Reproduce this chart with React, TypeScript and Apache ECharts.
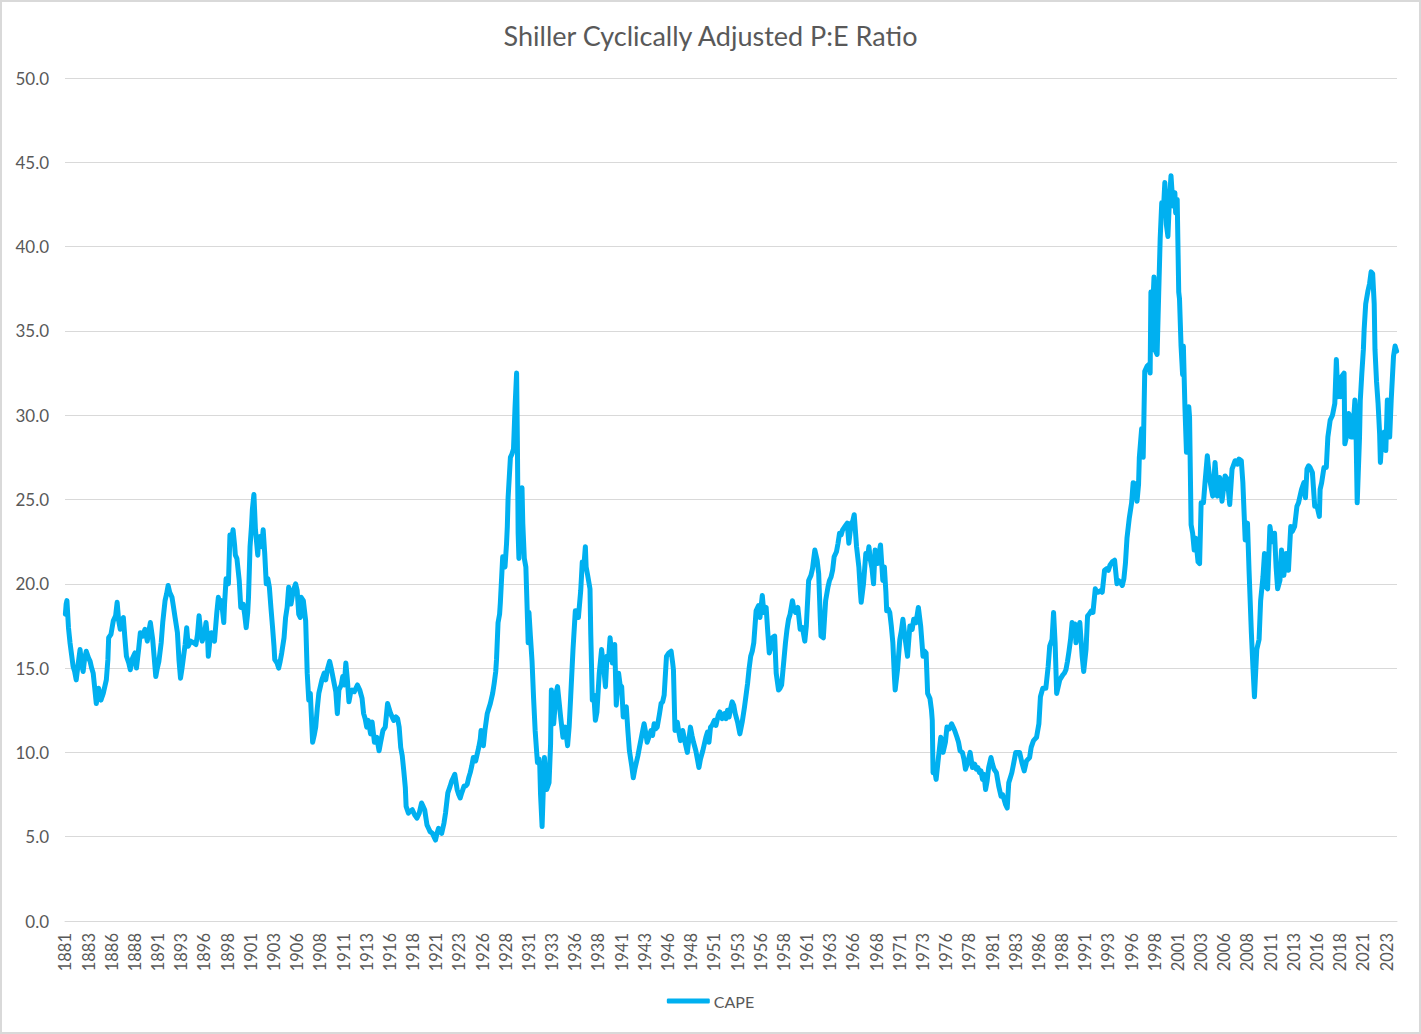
import React, { useEffect, useRef } from "react";
import * as echarts from "echarts";

const START_YEAR = 1881;
const MONTH_COUNT = 1724;
const LABEL_EVERY = 30;
const SERIES_NAME = "CAPE";
const TITLE = "Shiller Cyclically Adjusted P:E Ratio";

// [month index since Jan 1881, CAPE]
const cape1881to1915: [number, number][] = [
  [0,18.2],[1,18.8],[2,19.0],[4,17.4],[6,16.5],[8,15.8],[10,15.1],[12,14.8],[14,14.3],[17,15.4],[19,16.1],[21,15.2],[23,14.8],[25,15.6],[27,16.0],[30,15.6],[32,15.4],[34,15.0],[36,14.7],[38,13.8],[40,12.9],[43,13.8],[46,13.1],[49,13.5],[53,14.3],[55,15.5],[56,16.8],[59,17.0],[62,17.8],[65,18.1],[67,18.9],[69,17.8],[71,17.3],[73,17.8],[75,18.0],[77,16.8],[79,15.7],[82,15.3],[84,14.9],[87,15.6],[90,15.9],[92,15.0],[95,16.2],[97,17.1],[100,16.9],[103,17.3],[106,16.6],[108,17.2],[110,17.7],[113,16.7],[115,15.6],[117,14.5],[119,15.0],[121,15.4],[124,16.5],[126,17.7],[129,19.0],[131,19.4],[133,19.9],[135,19.5],[138,19.2],[140,18.6],[142,18.0],[145,17.1],[147,15.5],[149,14.4],[151,15.0],[153,15.7],[155,16.4],[157,17.4],[159,16.3],[162,16.6],[166,16.5],[169,16.4],[171,17.0],[173,18.1],[175,17.2],[177,16.6],[180,17.0],[182,17.7],[184,16.8],[185,15.7],[187,16.6],[189,17.1],[191,16.8],[193,16.6],[196,18.3],[198,19.2],[200,18.6],[202,19.0],[205,17.7],[206,18.8],[208,20.3],[211,20.0],[213,22.9],[215,22.4],[217,23.2],[219,22.3],[220,21.7],[222,21.5],[225,20.2],[227,18.6],[230,18.8],[232,18.2],[234,17.4],[236,18.3],[237,19.2],[239,22.2],[241,23.5],[242,24.4],[244,25.3],[246,23.2],[249,21.7],[250,22.5],[252,22.8],[254,22.2],[256,23.2],[258,21.8],[260,20.0],[262,20.3],[264,19.8],[266,18.6],[268,17.5],[270,16.3],[271,15.5],[274,15.3],[276,15.0],[278,15.4],[280,15.9],[283,16.8],[285,18.0],[287,18.6],[289,19.8],[292,18.8],[295,19.6],[298,20.0],[300,19.6],[302,18.2],[304,18.0],[305,19.2],[308,19.0],[311,17.8],[313,14.7],[315,13.1],[317,13.5],[320,10.6],[322,11.0],[324,11.5],[326,12.6],[328,13.5],[330,13.9],[332,14.3],[335,14.7],[337,14.3],[339,14.9],[342,15.4],[344,15.0],[347,14.3],[350,13.6],[352,12.3],[354,13.7],[357,14.0],[359,14.5],[361,14.0],[363,15.3],[365,14.3],[367,13.0],[369,13.5],[371,13.7],[374,13.6],[376,13.8],[378,14.0],[381,13.7],[384,13.2],[386,12.3],[388,12.0],[390,11.5],[392,11.9],[395,11.1],[397,11.8],[400,10.6],[403,10.9],[406,10.1],[408,10.6],[411,11.3],[414,11.5],[417,12.9]
];

const cape1916to1950: [number, number][] = [
  [421,12.3],[425,11.9],[428,12.1],[430,12.0],[432,11.5],[434,10.3],[436,9.8],[438,8.9],[440,7.9],[441,6.8],[444,6.4],[446,6.5],[449,6.6],[452,6.3],[455,6.1],[458,6.4],[461,7.0],[463,6.8],[465,6.6],[468,5.7],[470,5.5],[472,5.3],[475,5.2],[477,5.0],[479,4.8],[481,5.2],[483,5.5],[485,5.3],[487,5.2],[490,5.8],[492,6.4],[495,7.6],[498,8.0],[500,8.3],[502,8.5],[504,8.7],[507,7.8],[509,7.5],[511,7.3],[513,7.6],[516,8.0],[518,8.0],[520,8.1],[522,8.5],[524,8.8],[526,9.2],[528,9.7],[531,9.5],[533,9.9],[535,10.3],[537,10.8],[538,11.3],[541,10.4],[543,11.3],[546,12.3],[548,12.6],[550,12.9],[553,13.5],[555,14.1],[557,14.8],[558,15.5],[560,17.7],[562,18.2],[563,18.9],[566,21.6],[568,21.2],[569,21.0],[571,22.4],[572,23.4],[573,25.1],[576,27.5],[578,27.7],[580,28.0],[582,30.5],[584,32.5],[585,28.5],[586,23.0],[587,21.5],[589,24.5],[591,25.7],[592,23.6],[594,21.5],[596,21.0],[598,18.0],[599,16.5],[600,18.3],[602,16.8],[604,15.4],[606,13.2],[608,11.3],[610,10.0],[611,9.4],[613,9.6],[614,9.2],[615,7.5],[617,5.6],[618,7.0],[620,9.7],[622,8.4],[623,7.8],[626,8.2],[628,10.5],[629,13.7],[632,11.7],[635,13.5],[637,13.9],[639,13.0],[641,12.1],[644,10.9],[647,11.5],[650,10.4],[652,11.5],[654,13.3],[657,16.1],[660,18.4],[662,18.4],[664,18.0],[667,19.6],[669,21.3],[671,21.0],[673,22.2],[674,21.0],[676,20.5],[679,19.7],[680,17.0],[682,13.1],[684,13.4],[686,11.9],[688,12.4],[691,14.7],[694,16.1],[697,14.9],[699,13.9],[701,15.7],[703,15.5],[705,16.8],[708,15.3],[711,16.4],[713,12.8],[716,14.7],[718,14.0],[720,13.9],[722,12.1],[724,12.6],[726,12.7],[728,11.3],[730,10.1],[733,9.2],[735,8.5],[737,9.0],[739,9.4],[741,9.8],[743,10.3],[746,11.0],[749,11.7],[751,11.2],[753,10.6],[756,11.0],[758,11.3],[760,11.0],[762,11.7],[764,11.4],[766,11.5],[769,12.3],[771,12.9],[773,13.0],[775,13.4],[778,15.7],[781,15.9],[784,16.0],[786,15.3],[787,14.9],[789,11.3],[792,11.8],[794,11.2],[796,10.7],[799,11.3],[802,10.6],[805,10.0],[807,10.8],[809,11.5],[811,11.0],[813,10.6],[816,10.1],[818,9.6],[820,9.1],[822,9.6],[825,10.1],[827,10.5],[829,10.9],[831,11.2],[833,10.6],[835,11.5],[837,11.6]
];

const cape1951to1985: [number, number][] = [
  [840,11.9],[842,11.6],[845,12.2],[847,12.4],[850,12.0],[853,12.3],[855,12.0],[857,12.5],[859,12.1],[861,12.6],[863,13.0],[865,12.8],[867,12.3],[870,11.8],[873,11.1],[876,11.8],[879,12.7],[881,13.4],[883,14.1],[885,15.0],[887,15.7],[889,16.0],[891,16.5],[894,18.4],[897,18.7],[899,18.0],[902,19.3],[904,18.3],[907,18.6],[909,17.2],[911,15.9],[913,16.2],[915,16.8],[918,16.9],[920,14.7],[923,13.7],[925,13.8],[927,14.0],[930,15.5],[932,16.5],[934,17.3],[936,17.9],[938,18.2],[941,19.0],[943,18.5],[945,18.3],[948,18.6],[951,17.3],[954,17.4],[957,16.6],[959,17.5],[962,20.2],[965,20.5],[967,20.9],[970,22.0],[973,21.4],[975,20.6],[977,18.0],[978,16.9],[981,16.8],[984,19.0],[987,19.8],[989,20.2],[991,20.4],[993,20.8],[995,21.6],[998,21.9],[1000,22.4],[1002,23.0],[1004,22.9],[1006,23.2],[1009,23.4],[1012,23.6],[1014,22.4],[1017,23.6],[1019,23.7],[1021,24.1],[1024,22.2],[1027,21.0],[1029,19.5],[1030,18.9],[1033,20.0],[1036,21.8],[1038,21.5],[1040,22.2],[1042,21.4],[1044,20.9],[1046,20.0],[1048,22.0],[1051,21.2],[1053,21.8],[1055,22.3],[1058,20.2],[1060,21.0],[1062,19.5],[1063,18.4],[1065,18.5],[1067,18.3],[1069,17.5],[1071,16.5],[1073,14.5],[1074,13.7],[1077,14.9],[1080,16.7],[1082,17.2],[1084,17.9],[1087,16.7],[1090,15.7],[1093,17.5],[1096,17.3],[1098,17.9],[1101,17.7],[1104,18.6],[1107,17.5],[1109,16.3],[1110,15.7],[1112,16.0],[1114,15.9],[1116,13.5],[1119,13.2],[1121,12.5],[1122,11.9],[1123,8.8],[1125,9.0],[1127,8.4],[1130,9.7],[1133,10.9],[1136,10.0],[1139,10.6],[1141,11.5],[1144,11.4],[1147,11.7],[1149,11.5],[1151,11.3],[1154,10.9],[1156,10.6],[1158,10.1],[1161,10.0],[1163,9.6],[1165,9.0],[1168,9.4],[1171,10.0],[1174,9.1],[1177,9.3],[1179,9.0],[1181,9.1],[1183,8.8],[1185,8.9],[1187,8.4],[1189,8.7],[1191,7.8],[1193,8.3],[1195,9.1],[1198,9.7],[1200,9.3],[1202,9.0],[1205,8.8],[1208,8.0],[1211,7.4],[1213,7.5],[1215,7.2],[1217,6.9],[1219,6.7],[1221,8.2],[1223,8.5],[1225,8.8],[1228,9.5],[1230,10.0],[1233,10.0],[1235,10.0],[1238,9.4],[1241,8.9],[1244,9.5],[1248,9.7],[1250,10.3],[1253,10.7],[1257,10.9]
];

const cape1986to2024: [number, number][] = [
  [1260,11.7],[1262,13.3],[1265,13.8],[1269,13.8],[1272,15.1],[1274,16.3],[1277,16.7],[1279,18.3],[1281,16.5],[1283,13.5],[1285,13.9],[1287,14.3],[1291,14.6],[1293,14.7],[1295,14.9],[1297,15.4],[1299,16.0],[1301,16.7],[1303,17.7],[1305,17.5],[1307,17.6],[1308,16.5],[1310,17.0],[1313,17.7],[1316,15.7],[1318,14.8],[1321,16.1],[1323,18.1],[1325,18.2],[1328,18.4],[1330,18.3],[1333,19.7],[1335,19.5],[1337,19.5],[1340,19.6],[1342,19.5],[1345,20.8],[1348,20.9],[1350,20.8],[1352,21.1],[1355,21.3],[1358,21.4],[1361,20.0],[1363,20.2],[1365,20.1],[1368,19.9],[1370,20.3],[1372,21.2],[1374,22.7],[1377,23.9],[1380,24.8],[1382,26.0],[1385,25.9],[1387,24.9],[1389,25.9],[1390,27.5],[1393,29.2],[1395,27.5],[1397,32.6],[1400,32.9],[1402,33.0],[1404,32.5],[1405,37.3],[1407,36.0],[1409,38.2],[1410,33.9],[1413,33.6],[1415,37.1],[1417,40.5],[1419,42.6],[1421,42.0],[1423,43.8],[1425,41.3],[1427,40.6],[1429,42.8],[1431,44.2],[1432,43.5],[1434,42.4],[1436,43.2],[1437,42.0],[1439,42.8],[1441,37.3],[1442,36.9],[1444,34.1],[1446,32.4],[1447,34.1],[1449,30.5],[1451,27.8],[1453,30.0],[1454,30.5],[1455,29.9],[1457,23.5],[1459,23.0],[1461,22.0],[1463,22.7],[1466,21.3],[1468,21.2],[1470,24.8],[1473,24.8],[1475,26.0],[1478,27.6],[1481,26.2],[1485,25.2],[1488,27.2],[1491,25.2],[1494,26.3],[1497,24.9],[1501,26.4],[1504,26.2],[1507,24.7],[1510,26.8],[1514,27.3],[1517,27.1],[1519,27.4],[1522,27.3],[1524,26.0],[1527,22.6],[1530,23.6],[1532,20.8],[1535,17.1],[1537,15.1],[1539,13.3],[1542,16.1],[1545,16.7],[1547,19.0],[1550,20.4],[1552,21.8],[1554,19.8],[1556,19.7],[1559,23.4],[1562,22.5],[1565,23.0],[1567,21.0],[1569,19.7],[1572,20.2],[1574,22.0],[1577,20.5],[1580,21.8],[1583,20.8],[1586,23.4],[1588,23.1],[1591,23.4],[1594,24.6],[1596,24.8],[1600,25.6],[1603,26.0],[1605,25.1],[1607,26.8],[1609,27.0],[1611,26.9],[1614,26.6],[1617,24.6],[1620,24.6],[1623,24.0],[1624,25.6],[1626,26.0],[1629,26.9],[1632,26.9],[1634,28.7],[1637,29.7],[1640,30.0],[1643,30.7],[1645,33.3],[1647,31.1],[1649,31.5],[1651,31.1],[1652,32.3],[1655,32.5],[1656,28.3],[1658,28.7],[1661,30.1],[1662,30.0],[1664,28.7],[1666,28.7],[1669,30.9],[1670,30.3],[1672,24.8],[1675,28.7],[1676,30.9],[1678,32.5],[1680,33.9],[1681,35.1],[1683,36.6],[1686,37.4],[1688,37.8],[1690,38.5],[1692,38.4],[1694,36.6],[1695,33.9],[1697,32.0],[1699,30.7],[1701,28.9],[1702,27.2],[1704,28.7],[1705,28.1],[1707,29.0],[1709,27.9],[1711,30.9],[1714,28.7],[1716,30.9],[1719,33.5],[1721,34.1],[1723,33.8]
];

const monthCategories: string[] = Array.from({ length: MONTH_COUNT }, (_, i) => {
  const y = START_YEAR + Math.floor(i / 12);
  const m = (i % 12) + 1;
  return `${y}-${m < 10 ? "0" + m : m}`;
});

const FONT = "Lato, 'Open Sans', sans-serif";
const TEXT = "#595959";
const GRID = "#d9d9d9";
const LINE = "#00b0f0";

export default function App() {
  const ref = useRef<HTMLDivElement>(null);
  useEffect(() => {
    if (!ref.current) return;
    const chart = echarts.init(ref.current, undefined, { renderer: "svg" });
    const data = [...cape1881to1915, ...cape1916to1950, ...cape1951to1985, ...cape1986to2024];
    chart.setOption({
      animation: false,
      backgroundColor: "#ffffff",
      textStyle: { fontFamily: FONT },
      title: {
        text: TITLE,
        left: "center",
        top: 17,
        textStyle: { fontFamily: FONT, fontSize: 27, fontWeight: "normal", color: TEXT },
      },
      graphic: [
        {
          type: "rect",
          shape: { x: 1, y: 1, width: 1419, height: 1032 },
          style: { fill: "none", stroke: GRID, lineWidth: 2 },
          silent: true,
        },
      ],
      legend: {
        data: [{ name: SERIES_NAME, icon: "roundRect" }],
        left: "center",
        top: 988,
        itemWidth: 43,
        itemHeight: 5,
        itemGap: 4,
        textStyle: { fontFamily: FONT, fontSize: 16, color: TEXT, padding: [0, 0, 0, -1] },
      },
      grid: { left: 65, right: 24, top: 78, bottom: 113, containLabel: false },
      xAxis: {
        type: "category",
        data: monthCategories,
        boundaryGap: true,
        axisTick: { show: false },
        axisLine: { show: true, lineStyle: { color: GRID, width: 1 } },
        axisLabel: {
          interval: LABEL_EVERY - 1,
          rotate: 90,
          margin: 12,
          color: TEXT,
          fontFamily: FONT,
          fontSize: 16.5,
          formatter: (v: string) => v.slice(0, 4),
        },
        splitLine: { show: false },
      },
      yAxis: {
        type: "value",
        min: 0,
        max: 50,
        interval: 5,
        axisLine: { show: false },
        axisTick: { show: false },
        axisLabel: {
          margin: 16,
          color: TEXT,
          fontFamily: FONT,
          fontSize: 17,
          formatter: (v: number) => v.toFixed(1),
        },
        splitLine: { show: true, lineStyle: { color: GRID, width: 1 } },
      },
      series: [
        {
          name: SERIES_NAME,
          type: "line",
          data,
          showSymbol: false,
          symbol: "none",
          color: LINE,
          lineStyle: { color: LINE, width: 5, cap: "round", join: "round" },
        },
      ],
    });
    return () => chart.dispose();
  }, []);
  return (
    <div
      ref={ref}
      style={{ position: "absolute", left: 0, top: 0, width: 1421, height: 1034 }}
    />
  );
}
